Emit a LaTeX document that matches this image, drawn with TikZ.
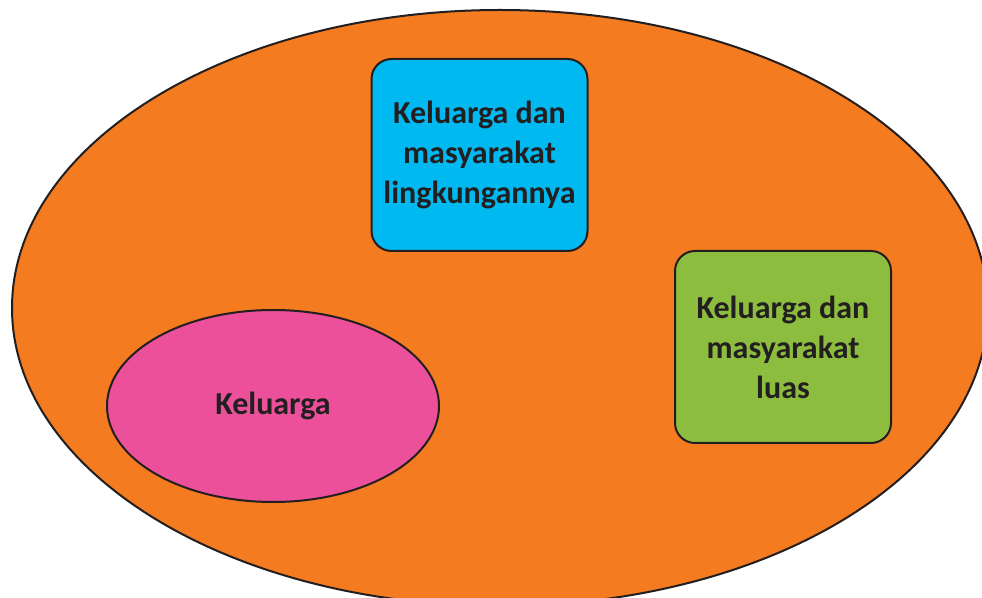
\documentclass[tikz,border=0pt]{standalone}
\usepackage{fontspec}
\setmainfont{Carlito}
\usepackage{tikz}
\usetikzlibrary{shapes}

\definecolor{orangefill}{RGB}{244,123,32}
\definecolor{cyanfill}{RGB}{0,185,240}
\definecolor{greenfill}{RGB}{141,189,63}
\definecolor{pinkfill}{RGB}{236,80,155}
\definecolor{darkline}{RGB}{35,31,32}

\tikzset{
  setbox/.style={draw=darkline, line width=1.5pt, rounded corners=15pt, minimum width=162pt, minimum height=144pt, inner sep=0.75pt, align=center, text=darkline, font=\fontsize{24}{30}\selectfont\bfseries},
}

\begin{document}
\begin{tikzpicture}[x=0.75pt,y=0.75pt,yscale=-1,xscale=1]
\useasboundingbox (0,0) rectangle (982,598);
\clip (0,0) rectangle (982,598);

%Shape: Ellipse [id:outer]
\draw [draw=darkline, line width=1.5pt, fill=orangefill] (500,308) ellipse [x radius=488, y radius=298];

%Shape: Ellipse [id:keluarga]
\draw (273,406) node [ellipse, draw=darkline, line width=1.5pt, fill=pinkfill, minimum width=249pt, minimum height=144pt, text=darkline, font=\fontsize{24}{30}\selectfont\bfseries] (keluarga) {Keluarga};

% Text Node
\draw (479.5,155) node [setbox, fill=cyanfill] (lingkungan) {Keluarga dan\\masyarakat\\lingkungannya};
% Text Node
\draw (783,347) node [setbox, fill=greenfill] (luas) {Keluarga dan\\masyarakat\\luas};

\end{tikzpicture}
\end{document}
